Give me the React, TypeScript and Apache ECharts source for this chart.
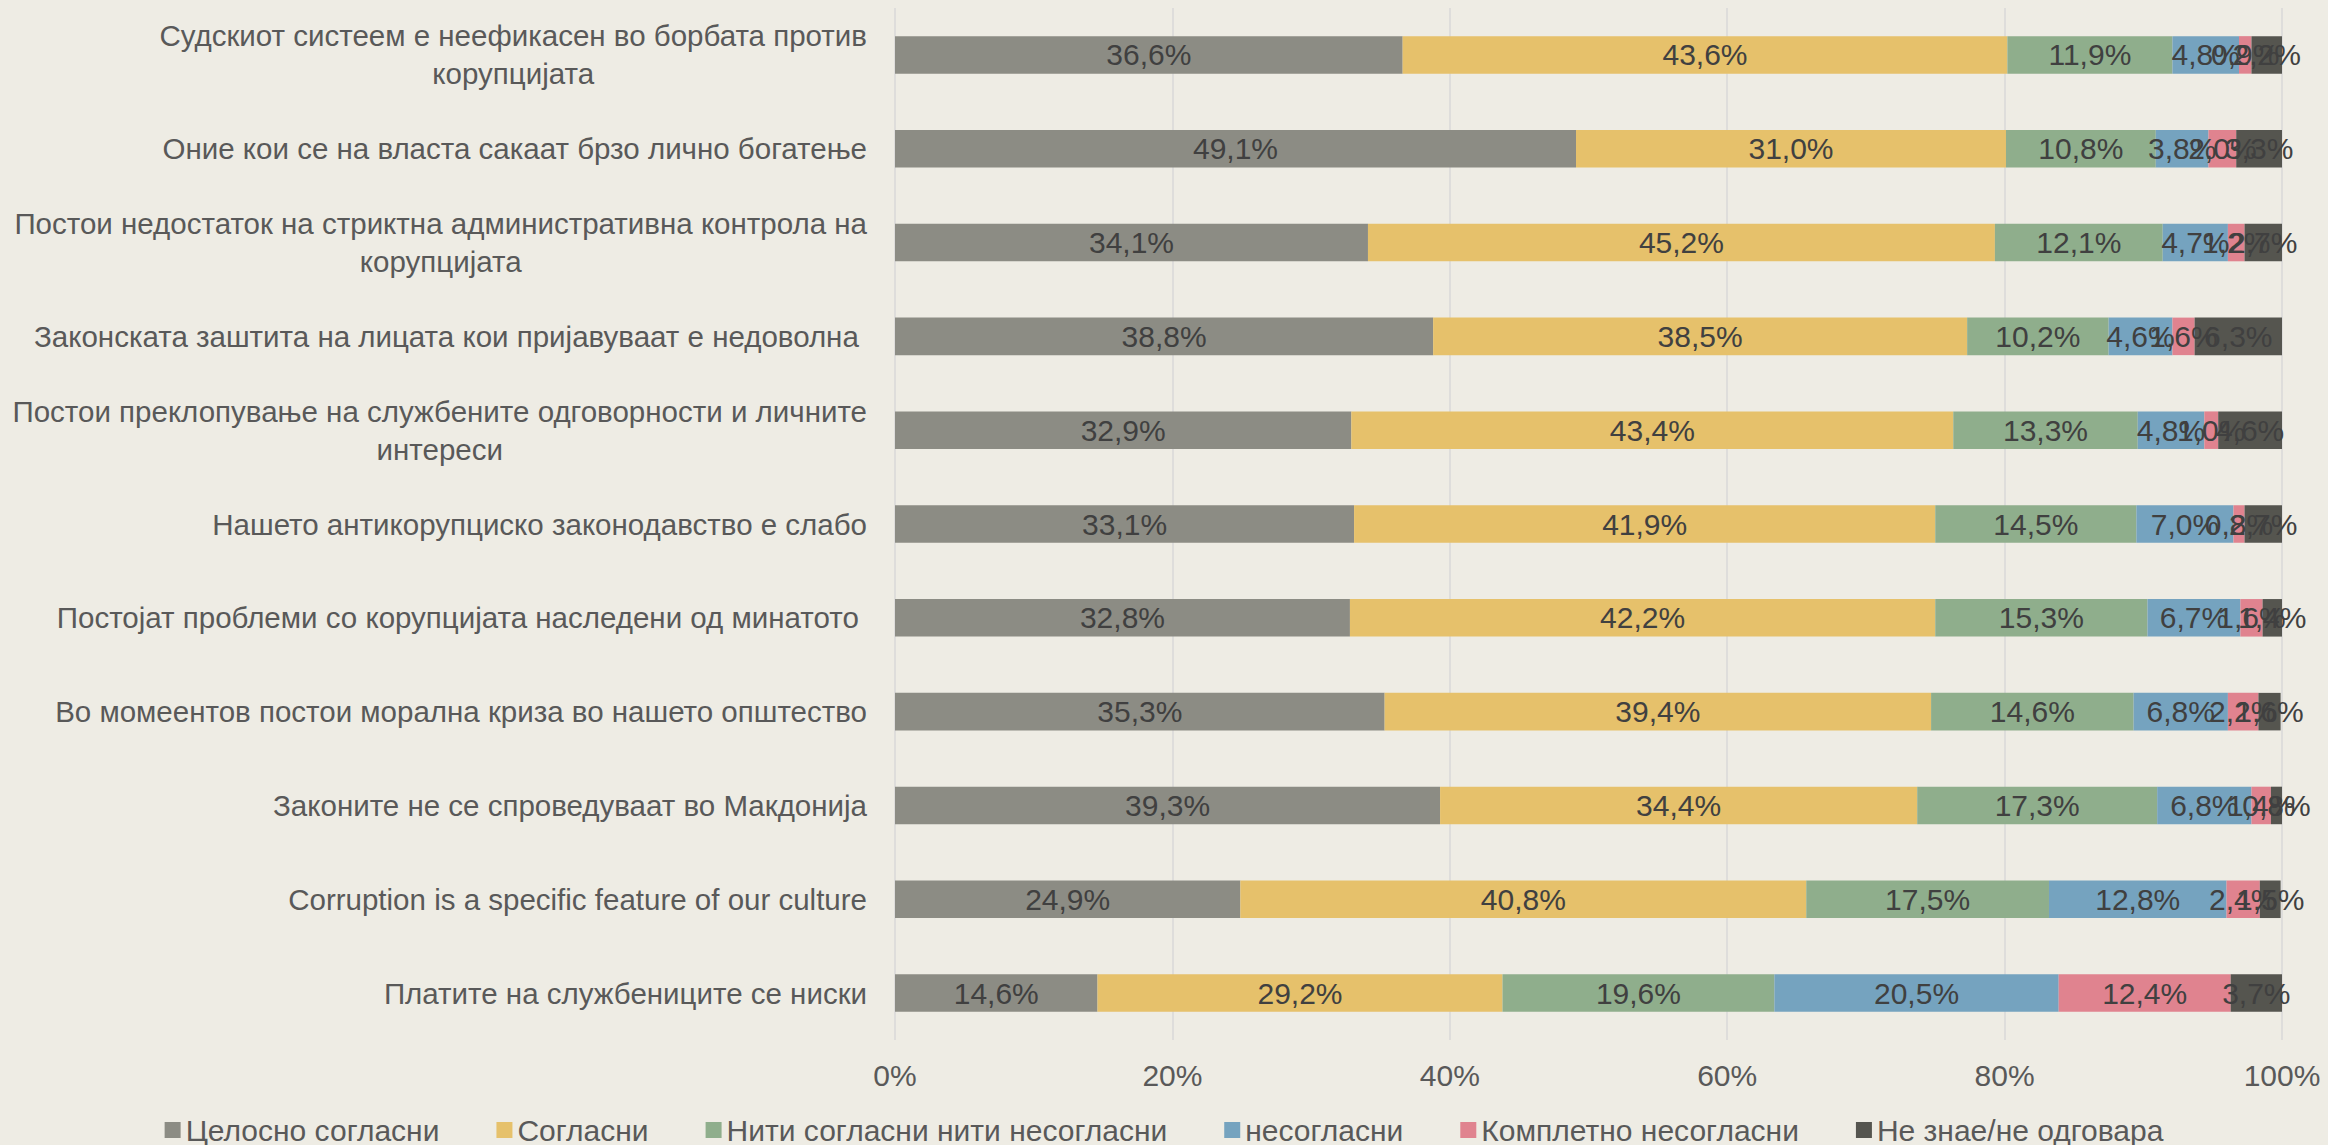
import React, { useEffect, useRef } from "react";
import * as echarts from "echarts";

const FONT = "Liberation Sans";

const categories = [
  "Судскиот систеем е неефикасен во борбата против\nкорупцијата",
  "Оние кои се на власта сакаат брзо лично богатење",
  "Постои недостаток на стриктна административна контрола на\nкорупцијата",
  "Законската заштита на лицата кои пријавуваат е недоволна ",
  "Постои преклопување на службените одговорности и личните\nинтереси",
  "Нашето антикорупциско законодавство е слабо",
  "Постојат проблеми со корупцијата наследени од минатото ",
  "Во момеентов постои морална криза во нашето општество",
  "Законите не се спроведуваат во Макдонија",
  "Corruption is a specific feature of our culture",
  "Платите на службениците се ниски",
];

const seriesNames = [
  "Целосно согласни",
  "Согласни",
  "Нити согласни нити несогласни",
  "несогласни",
  "Комплетно несогласни",
  "Не знае/не одговара",
];

const fullyAgree = [36.6, 49.1, 34.1, 38.8, 32.9, 33.1, 32.8, 35.3, 39.3, 24.9, 14.6];
const agree = [43.6, 31.0, 45.2, 38.5, 43.4, 41.9, 42.2, 39.4, 34.4, 40.8, 29.2];
const neutral = [11.9, 10.8, 12.1, 10.2, 13.3, 14.5, 15.3, 14.6, 17.3, 17.5, 19.6];
const disagree = [4.8, 3.8, 4.7, 4.6, 4.8, 7.0, 6.7, 6.8, 6.8, 12.8, 20.5];
const fullyDisagree = [0.9, 2.0, 1.2, 1.6, 1.0, 0.8, 1.6, 2.2, 1.4, 2.4, 12.4];
const dontKnow = [2.2, 3.3, 2.7, 6.3, 4.6, 2.7, 1.4, 1.6, 0.8, 1.5, 3.7];

const xTicks = [0, 20, 40, 60, 80, 100];

const seriesData = [fullyAgree, agree, neutral, disagree, fullyDisagree, dontKnow];
const colors = ["#8C8C84", "#E6C16B", "#8FAE8C", "#75A3BF", "#E0838F", "#55554F"];

export default function App() {
  const ref = useRef<HTMLDivElement>(null);
  useEffect(() => {
    document.body.style.margin = "0";
    const chart = echarts.init(ref.current!, null, { renderer: "svg" });
    const option: any = {
      animation: false,
      backgroundColor: "#EEECE4",
      textStyle: { fontFamily: FONT },
      grid: { left: 895, right: 46, top: 8, bottom: 105, containLabel: false },
      xAxis: {
        type: "value",
        min: xTicks[0],
        max: xTicks[xTicks.length - 1],
        interval: 20,
        axisLine: { show: false },
        axisTick: { show: false },
        axisLabel: {
          formatter: "{value}%",
          fontSize: 30,
          color: "#595959",
          margin: 20,
          fontFamily: FONT,
        },
        splitLine: { show: true, lineStyle: { color: "#D9D9D9", width: 1.5 } },
      },
      yAxis: {
        type: "category",
        inverse: true,
        data: categories,
        axisLine: { show: false },
        axisTick: { show: false },
        axisLabel: {
          margin: 28,
          fontSize: 30,
          color: "#595959",
          fontFamily: FONT,
          formatter: (v: string) =>
            v
              .split("\n")
              .map((l) => `{c|${l}}`)
              .join("\n"),
          rich: {
            c: {
              align: "center",
              fontSize: 29.5,
              color: "#595959",
              lineHeight: 38,
              fontFamily: FONT,
            },
          },
        },
      },
      legend: {
        top: 1110,
        left: "center",
        icon: "rect",
        itemWidth: 16,
        itemHeight: 16,
        itemGap: 57,
        data: seriesNames,
        textStyle: { fontSize: 30, color: "#595959", fontFamily: FONT },
      },
      series: seriesNames.map((name, i) => ({
        name,
        type: "bar",
        stack: "total",
        barCategoryGap: "60%",
        data: seriesData[i],
        itemStyle: { color: colors[i] },
        label: {
          show: true,
          position: "inside",
          fontSize: 30,
          color: "#404040",
          fontFamily: FONT,
          formatter: (p: any) => p.value.toFixed(1).replace(".", ",") + "%",
        },
        labelLayout: { hideOverlap: false },
      })),
    };
    chart.setOption(option);
    return () => chart.dispose();
  }, []);
  return <div ref={ref} style={{ width: 2328, height: 1145 }} />;
}
